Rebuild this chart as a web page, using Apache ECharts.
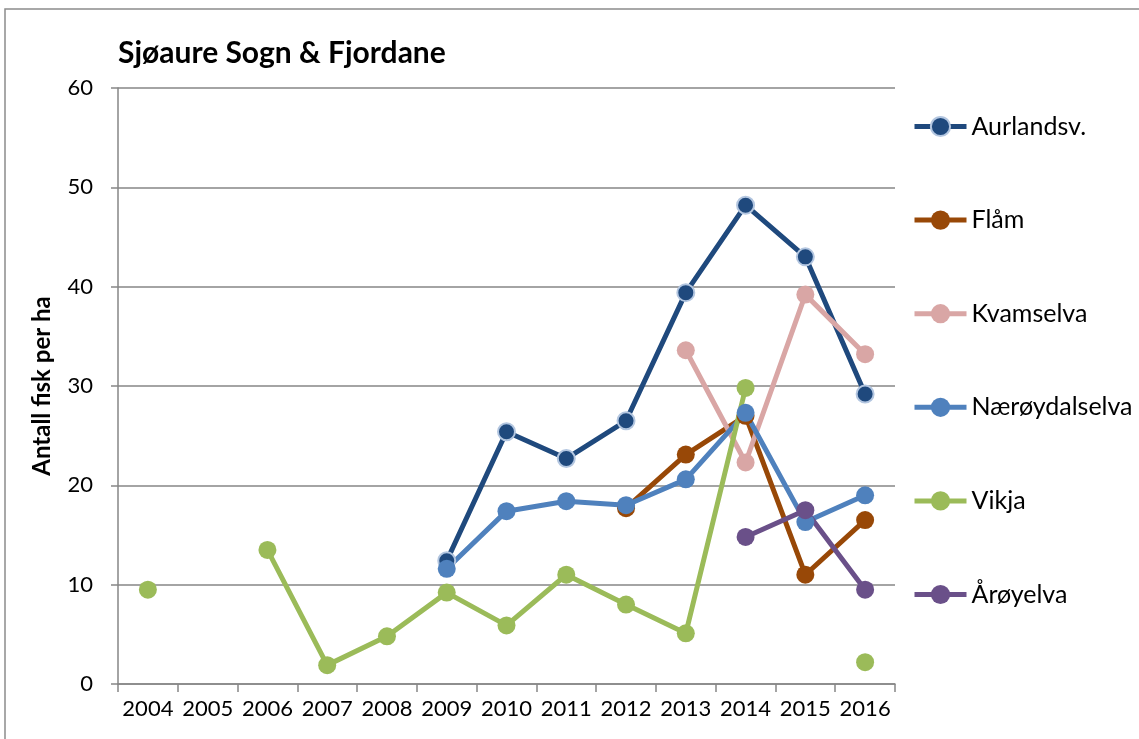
<!DOCTYPE html>
<html>
<head>
<meta charset="utf-8">
<script src="https://cdn.jsdelivr.net/npm/echarts@6/dist/echarts.min.js"></script>
<style>
html,body{margin:0;padding:0;background:#fff;}
#chart{width:1139px;height:739px;}
</style>
</head>
<body>
<div id="chart"></div>
<script>
const years = ['2004','2005','2006','2007','2008','2009','2010','2011','2012','2013','2014','2015','2016'];
const aurlandsv = [null,null,null,null,null,12.4,25.4,22.7,26.5,39.4,48.2,43.0,29.2];
const flaam = [null,null,null,null,null,null,null,null,17.7,23.1,27.0,11.0,16.5];
const kvamselva = [null,null,null,null,null,null,null,null,null,33.6,22.3,39.2,33.2];
const naeroydalselva = [null,null,null,null,null,11.6,17.4,18.4,18.0,20.6,27.3,16.3,19.0];
const vikja = [9.5,null,13.5,1.9,4.8,9.2,5.9,11.0,8.0,5.1,29.8,null,2.2];
const aroyelva = [null,null,null,null,null,null,null,null,null,null,14.8,17.5,9.5];
const yTicks = [0,10,20,30,40,50,60];

const FONT = 'Lato';
const chart = echarts.init(document.getElementById('chart'));

function mk(name, data, color, opts) {
  opts = opts || {};
  return {
    name: name,
    type: 'line',
    data: data,
    symbol: 'circle',
    symbolSize: opts.size || 18,
    showSymbol: true,
    connectNulls: false,
    lineStyle: {color: color, width: 5},
    itemStyle: {
      color: color,
      borderColor: opts.border || color,
      borderWidth: opts.border ? 2 : 0
    },
    emphasis: {disabled: true},
    animation: false
  };
}

chart.setOption({
  animation: false,
  backgroundColor: '#ffffff',
  title: {
    text: 'Sjøaure Sogn & Fjordane',
    left: 113,
    top: 33,
    textStyle: {fontFamily: FONT, fontWeight: 'bold', fontSize: 30, color: '#000'}
  },
  graphic: [{
    type: 'rect',
    shape: {x: 5, y: 9, width: 1160, height: 760},
    style: {fill: 'none', stroke: '#8c8c8c', lineWidth: 1.5},
    silent: true
  }],
  legend: {
    orient: 'vertical',
    left: 912,
    top: 114,
    padding: 0,
    itemWidth: 52,
    itemHeight: 24,
    itemGap: 68.6,
    lineStyle: {width: 5},
    textStyle: {fontFamily: FONT, fontSize: 25, lineHeight: 24, color: '#000'},
    data: ['Aurlandsv.','Flåm','Kvamselva','Nærøydalselva','Vikja','Årøyelva']
  },
  grid: {left: 118, right: 244, top: 88, bottom: 55, containLabel: false},
  xAxis: {
    type: 'category',
    data: years,
    boundaryGap: true,
    axisLine: {lineStyle: {color: '#868686', width: 1.5}},
    axisTick: {show: true, length: 8, lineStyle: {color: '#868686', width: 1.5}, alignWithLabel: false},
    axisLabel: {fontFamily: FONT, fontSize: 22, color: '#000', margin: 14, interval: 0},
    splitLine: {show: false}
  },
  yAxis: {
    type: 'value',
    min: 0,
    max: 60,
    interval: 10,
    name: 'Antall fisk per ha',
    nameLocation: 'middle',
    nameGap: 64,
    nameRotate: 90,
    nameTextStyle: {fontFamily: FONT, fontWeight: 'bold', fontSize: 24, color: '#000'},
    axisLine: {show: true, lineStyle: {color: '#868686', width: 1.5}},
    axisTick: {show: true, length: 7, lineStyle: {color: '#868686', width: 1.5}},
    axisLabel: {fontFamily: FONT, fontSize: 22, color: '#000', margin: 25,
      formatter: function (v) { return yTicks.indexOf(v) >= 0 ? String(v) : ''; }},
    splitLine: {show: true, lineStyle: {color: '#868686', width: 1.5}}
  },
  series: [
    mk('Aurlandsv.', aurlandsv, '#1F497D', {size: 17, border: '#B3C6E0'}),
    mk('Flåm', flaam, '#984807'),
    mk('Kvamselva', kvamselva, '#D9A6A5'),
    mk('Nærøydalselva', naeroydalselva, '#4F81BD'),
    mk('Vikja', vikja, '#9BBB59'),
    mk('Årøyelva', aroyelva, '#6A5089')
  ]
});
</script>
</body>
</html>
